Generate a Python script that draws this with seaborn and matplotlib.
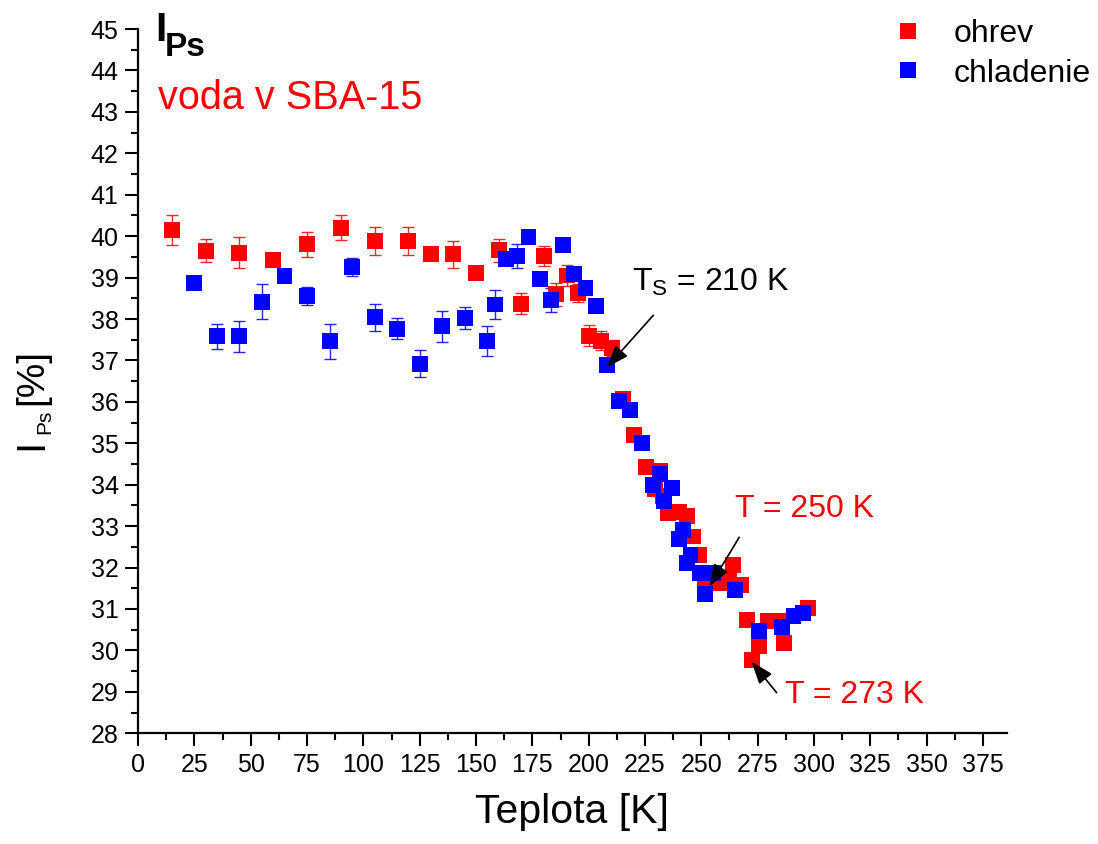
import numpy as np
import pandas as pd
import matplotlib
matplotlib.use("Agg")
import matplotlib.pyplot as plt
import seaborn as sns
from matplotlib.lines import Line2D

# Heating run (ohrev): temperature [K], I_Ps [%], error
T_ohrev = [15, 30, 45, 60, 75, 90, 105, 120, 130, 140, 150, 160, 170, 180,
           185.5, 190.3, 195.3, 200.3, 205.3, 210.5, 215.4, 220.3, 225.4,
           231.5, 229.5, 233.0, 235.0, 240.0, 243.5, 246.5, 248.8, 251.5,
           255.0, 258.0, 262.5, 264.2, 267.5, 270.2, 272.4, 275.8, 279.8,
           284.5, 286.5, 297.5]
I_ohrev = [40.15, 39.65, 39.6, 39.42, 39.8, 40.2, 39.88, 39.88, 39.58, 39.56,
           39.12, 39.66, 38.37, 39.52, 38.6, 39.05, 38.62, 37.6, 37.48, 37.3,
           36.08, 35.2, 34.42, 34.34, 33.9, 33.72, 33.32, 33.35, 33.25, 32.75,
           32.3, 31.5, 31.8, 31.62, 31.75, 32.07, 31.58, 30.73, 29.77, 30.1,
           30.72, 30.7, 30.17, 31.02]
err_ohrev = [0.36, 0.27, 0.38, 0.05, 0.3, 0.3, 0.33, 0.33, 0.05, 0.33, 0.1,
             0.28, 0.25, 0.25, 0.28, 0.26, 0.22, 0.25, 0.22, 0.2, 0.1, 0.1,
             0.1, 0.1, 0.1, 0.1, 0.1, 0.1, 0.1, 0.1, 0.1, 0.1, 0.1, 0.1, 0.1,
             0.1, 0.1, 0.1, 0.1, 0.1, 0.1, 0.1, 0.1, 0.1]

# Cooling run (chladenie)
T_chlad = [25, 35, 45, 55, 65, 75, 85, 95, 105, 115, 125, 135, 145, 155,
           158.3, 163.3, 168.2, 173.3, 178.4, 183.3, 188.4, 193.4, 198.6,
           203.3, 208.3, 213.5, 218.4, 223.5, 228.4, 231.5, 233.6, 236.9,
           240.0, 241.8, 243.5, 245.2, 249.3, 251.7, 255.2, 265.0, 275.5,
           285.6, 290.9, 295.3]
I_chlad = [38.86, 37.58, 37.58, 38.42, 39.04, 38.55, 37.46, 39.25, 38.04,
           37.77, 36.92, 37.82, 38.02, 37.46, 38.35, 39.45, 39.52, 39.97,
           38.97, 38.46, 39.78, 39.08, 38.75, 38.32, 36.9, 36.02, 35.8, 35.0,
           34.0, 34.26, 33.6, 33.93, 32.68, 32.9, 32.1, 32.3, 31.88, 31.36,
           31.88, 31.45, 30.47, 30.56, 30.83, 30.9]
err_chlad = [0.05, 0.31, 0.38, 0.43, 0.05, 0.22, 0.42, 0.22, 0.33, 0.25,
             0.33, 0.37, 0.27, 0.36, 0.34, 0.1, 0.3, 0.05, 0.05, 0.29, 0.05,
             0.05, 0.05, 0.05, 0.05, 0.1, 0.12, 0.1, 0.1, 0.1, 0.1, 0.1, 0.1,
             0.1, 0.1, 0.1, 0.1, 0.1, 0.1, 0.1, 0.1, 0.1, 0.1, 0.1]

series_labels = ["ohrev", "chladenie"]
x_ticks = list(range(0, 376, 25))
y_ticks = list(range(28, 46))

sns.set_style("ticks")
plt.rcParams["font.family"] = ["Liberation Sans", "DejaVu Sans"]
plt.rcParams["mathtext.fontset"] = "custom"
plt.rcParams["mathtext.rm"] = "Liberation Sans"
plt.rcParams["mathtext.it"] = "Liberation Sans:italic"
plt.rcParams["mathtext.bf"] = "Liberation Sans:bold"
for key in ("text.color", "axes.labelcolor", "xtick.color", "ytick.color",
            "axes.edgecolor"):
    plt.rcParams[key] = "black"

palette = {"ohrev": "#ff0000", "chladenie": "#0000ff"}

df = pd.concat([
    pd.DataFrame({"T": T_ohrev, "I": I_ohrev, "err": err_ohrev,
                  "serie": series_labels[0]}),
    pd.DataFrame({"T": T_chlad, "I": I_chlad, "err": err_chlad,
                  "serie": series_labels[1]}),
], ignore_index=True)

fig = plt.figure(figsize=(10.98, 8.44), dpi=100)
ax = fig.add_axes([0.1257, 0.1312, 0.7911, 0.8344])

# error bars beneath the square markers
for name in series_labels:
    sub = df[df["serie"] == name]
    ax.errorbar(sub["T"], sub["I"], yerr=sub["err"], fmt="none",
                ecolor=palette[name], elinewidth=1.0, capsize=4.6,
                capthick=1.0, alpha=0.85, zorder=2)

sns.scatterplot(data=df, x="T", y="I", hue="serie", palette=palette,
                marker="s", s=132, linewidth=0, legend=False, ax=ax,
                zorder=3)

ax.set_xlim(0, 385.5)
ax.set_ylim(28, 45)
ax.set_xticks(x_ticks)
ax.set_yticks(y_ticks)
ax.set_xticks(np.arange(12.5, 385, 25), minor=True)
ax.set_yticks(np.arange(28.5, 45, 1), minor=True)
ax.tick_params(which="major", length=9.4, width=1.5, labelsize=18,
               direction="out", color="black", labelcolor="black", pad=4.5)
ax.tick_params(which="minor", length=4.8, width=1.5, direction="out",
               color="black")
sns.despine(ax=ax)
for side in ("left", "bottom"):
    ax.spines[side].set_linewidth(1.6)
    ax.spines[side].set_color("black")

ax.set_xlabel("Teplota [K]", fontsize=29.5, labelpad=12, color="black")
ax.set_ylabel("")

# y-axis title built from pieces so the subscript can be small
fig.text(42 / 1098, 1 - 450 / 844, "I", rotation=90, rotation_mode="anchor",
         ha="left", va="baseline", fontsize=29, color="black")
fig.text(50 / 1098, 1 - 434 / 844, "Ps", rotation=90, rotation_mode="anchor",
         ha="left", va="baseline", fontsize=15, color="black")
fig.text(42 / 1098, 1 - 405 / 844, "[%]", rotation=90,
         rotation_mode="anchor", ha="left", va="baseline", fontsize=28,
         color="black")

# panel title
ax.text(7.8, 44.70, "I", fontsize=29, fontweight="bold", ha="left",
        va="baseline", color="black")
ax.text(11.8, 44.34, "Ps", fontsize=24, fontweight="bold", ha="left",
        va="baseline", color="black")
ax.text(8.9, 43.06, "voda v SBA-15", fontsize=28.5, color="#ff0000",
        ha="left", va="baseline")

# annotations with arrows
arrow = dict(arrowstyle="-|>,head_length=0.55,head_width=0.2",
             color="black", lw=1.2, mutation_scale=25, shrinkA=0, shrinkB=0)
ax.annotate("", xy=(208.0, 36.83), xytext=(228.7, 38.09), arrowprops=arrow)
ax.annotate("", xy=(253.6, 31.54), xytext=(266.8, 32.73), arrowprops=arrow)
ax.annotate("", xy=(272.3, 29.73), xytext=(283.4, 28.98), arrowprops=arrow)

ax.text(219.1, 38.67, r"$\mathrm{T_S}$ = 210 K", fontsize=23,
        color="black", ha="left", va="baseline")
ax.text(265.0, 33.23, "T = 250 K", fontsize=23, color="#ff0000",
        ha="left", va="baseline")
ax.text(287.2, 28.74, "T = 273 K", fontsize=23, color="#ff0000",
        ha="left", va="baseline")

handles = [Line2D([], [], linestyle="none", marker="s", markersize=11.8,
                  markeredgewidth=0, color=palette[n]) for n in series_labels]
leg = ax.legend(handles, series_labels, loc="upper left",
                bbox_to_anchor=(892 / 1098, 1 - 19 / 844),
                bbox_transform=fig.transFigure, frameon=False, fontsize=23,
                handlelength=1.0, handletextpad=0.94, labelspacing=0.3,
                borderpad=0, borderaxespad=0)
for t in leg.get_texts():
    t.set_color("black")

fig.savefig("out.png", dpi=100)
